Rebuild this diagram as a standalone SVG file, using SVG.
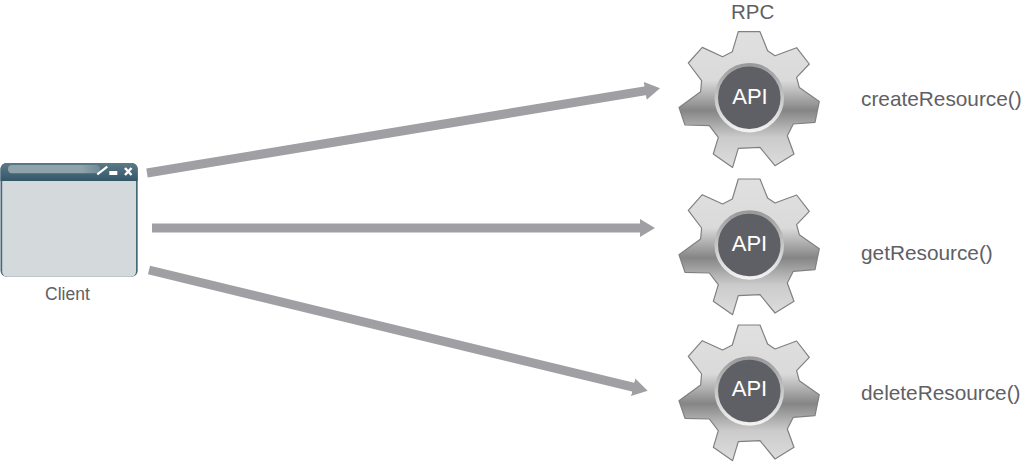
<svg xmlns="http://www.w3.org/2000/svg" width="1023" height="462" viewBox="0 0 1023 462">
<style>
text{font-family:"Liberation Sans",Arial,sans-serif;fill:#5f6064}
.lbl{font-size:20.800px}
.api{font-size:22px;fill:#fff;text-anchor:middle}
.conn{stroke:#a0a0a4;stroke-width:9;fill:none;marker-end:url(#ah)}
</style>
<defs>
<marker id="ah" markerUnits="userSpaceOnUse" markerWidth="20" markerHeight="20" refX="1" refY="10" orient="auto"><path d="M0 1L15 10L0 19Z" fill="#a0a0a4"/></marker>
<linearGradient id="gg" x1="0" y1="0" x2="0" y2="1">
<stop offset="0" stop-color="#e0e0e0"/><stop offset=".36" stop-color="#dadada"/><stop offset=".58" stop-color="#858586"/><stop offset=".78" stop-color="#cbcbcb"/><stop offset="1" stop-color="#dddddd"/>
</linearGradient>
<linearGradient id="ring" x1="0" y1="0" x2="0" y2="1"><stop offset="0" stop-color="#9a9a9c"/><stop offset="1" stop-color="#f2f2f2"/></linearGradient>
<linearGradient id="bar" x1="0" y1="0" x2="0" y2="1"><stop offset="0" stop-color="#5b7a88"/><stop offset="1" stop-color="#34566a"/></linearGradient>
<linearGradient id="pale" x1="0" y1="0" x2="1" y2="0"><stop offset="0" stop-color="#8fa3aa"/><stop offset=".8" stop-color="#8fa3aa"/><stop offset="1" stop-color="#6f8a96"/></linearGradient>
<g id="gear">
<path d="M-11-66L10.700-66L18.300-47L25.700-42L47.300-50L60-33.700L47.300-20.300L50-10.300L70 3.700L65.700 24.700L44 26.300L38 38L44.700 56.300L25.700 68L10.700 49.700L-11 50.700L-16.700 69.700L-36 56.300L-31 39.700L-40 28L-64.300 27.300L-70.300 9.700L-48.700-6L-47.700-17L-61-34.700L-47-50.300L-26.700-41L-17-46Z" fill="url(#gg)" stroke="#808083" stroke-width="1.200" stroke-linejoin="round"/>
<circle r="33" fill="#5f6065" stroke="url(#ring)" stroke-width="3.500"/>
</g>
</defs>
<g id="connectors">
<line class="conn" x1="147" y1="173" x2="646.200" y2="90.600"/>
<line class="conn" x1="152" y1="228" x2="641" y2="228"/>
<line class="conn" x1="149" y1="270" x2="634.100" y2="387.400"/>
</g>
<g id="client">
<rect x="0.500" y="163" width="137.200" height="113.700" rx="6" fill="#47677a"/>
<path d="M2.200 181H136V271.700a5 5 0 0 1-5 5H7.200a5 5 0 0 1-5-5Z" fill="#d4d9dc"/>
<path d="M0.500 181V169a6 6 0 0 1 6-6H131.700a6 6 0 0 1 6 6V181Z" fill="url(#bar)"/>
<rect x="8" y="165" width="92" height="8.300" rx="4" fill="url(#pale)"/>
<path d="M97.300 174.300L107.300 166.700" stroke="#fff" stroke-width="2.200" fill="none"/>
<rect x="109.300" y="171" width="8" height="4" fill="#fff"/>
<path d="M125 168L131.500 175M131.500 168L125 175" stroke="#fff" stroke-width="2.500" fill="none"/>
<text x="45" y="300" style="font-size:17.500px">Client</text>
</g>
<g id="rpc1">
<text x="731" y="18.500" style="font-size:20.500px">RPC</text>
<use href="#gear" x="749.300" y="97.700"/>
<text class="api" x="750" y="103.500">API</text>
<text class="lbl" x="861" y="106">createResource()</text>
</g>
<g id="rpc2">
<use href="#gear" x="749.300" y="245"/>
<text class="api" x="749.500" y="250.500">API</text>
<text class="lbl" x="861" y="260">getResource()</text>
</g>
<g id="rpc3">
<use href="#gear" x="749.300" y="391"/>
<text class="api" x="749.500" y="396">API</text>
<text class="lbl" x="861" y="400">deleteResource()</text>
</g>
</svg>
